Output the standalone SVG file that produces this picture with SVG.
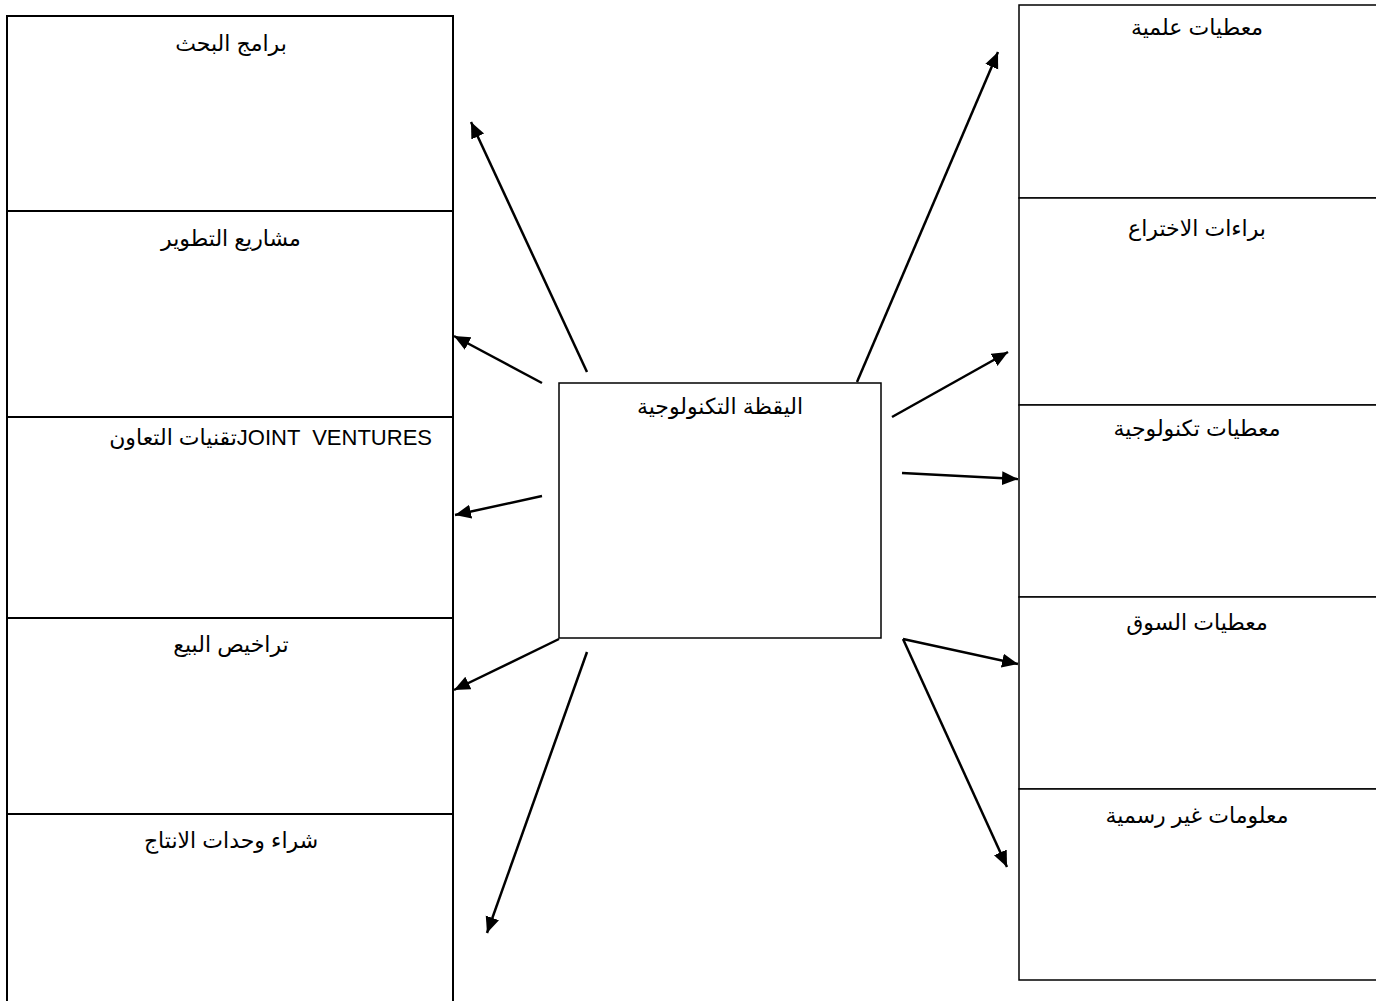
<svg xmlns="http://www.w3.org/2000/svg" width="1376" height="1001" viewBox="0 0 1376 1001">
<style>
  .cell { fill: #ffffff; stroke: #000000; stroke-width: 2; }
  .cellr { fill: #ffffff; stroke: #000000; stroke-width: 1.5; }
  .lbl { font-family: "Liberation Sans", "DejaVu Sans", "Noto Sans", sans-serif; font-size: 22px; fill: #000000; text-anchor: middle; }
  .arr { stroke: #000000; stroke-width: 2.5; fill: none; marker-end: url(#ah); }
</style>
<defs>
  <marker id="ah" markerUnits="userSpaceOnUse" markerWidth="18" markerHeight="16" refX="16" refY="7" orient="auto">
    <path d="M0,0 L16,7 L0,14 z" fill="#000000"/>
  </marker>
</defs>
<rect x="0" y="0" width="1376" height="1001" fill="#ffffff"/>

<g id="left-1"><rect class="cell" x="7" y="16" width="446" height="195"/><text class="lbl" x="231" y="51">برامج البحث</text></g>
<g id="left-2"><rect class="cell" x="7" y="211" width="446" height="206"/><text class="lbl" x="231" y="246">مشاريع التطوير</text></g>
<g id="left-3"><rect class="cell" x="7" y="417" width="446" height="201"/><text class="lbl" x="432" y="445" style="text-anchor:end" xml:space="preserve">تقنيات التعاونJOINT  VENTURES</text></g>
<g id="left-4"><rect class="cell" x="7" y="618" width="446" height="196"/><text class="lbl" x="231" y="652">تراخيص البيع</text></g>
<g id="left-5"><rect class="cell" x="7" y="814" width="446" height="200"/><text class="lbl" x="231" y="848">شراء وحدات الانتاج</text></g>

<g id="center"><rect class="cellr" x="559" y="383" width="322" height="255"/><text class="lbl" x="720" y="414">اليقظة التكنولوجية</text></g>

<g id="right-1"><rect class="cellr" x="1019" y="5" width="360" height="193"/><text class="lbl" x="1197" y="35">معطيات علمية</text></g>
<g id="right-2"><rect class="cellr" x="1019" y="198" width="360" height="207"/><text class="lbl" x="1197" y="236">براءات الاختراع</text></g>
<g id="right-3"><rect class="cellr" x="1019" y="405" width="360" height="192"/><text class="lbl" x="1197" y="436">معطيات تكنولوجية</text></g>
<g id="right-4"><rect class="cellr" x="1019" y="597" width="360" height="192"/><text class="lbl" x="1197" y="630">معطيات السوق</text></g>
<g id="right-5"><rect class="cellr" x="1019" y="789" width="360" height="191"/><text class="lbl" x="1197" y="823">معلومات غير رسمية</text></g>

<g id="connectors">
  <line class="arr" x1="587" y1="372" x2="471" y2="122"/>
  <line class="arr" x1="542" y1="383" x2="454" y2="336"/>
  <line class="arr" x1="542" y1="496" x2="455" y2="515"/>
  <line class="arr" x1="559" y1="639" x2="454" y2="690"/>
  <line class="arr" x1="587" y1="652" x2="487" y2="933"/>
  <line class="arr" x1="857" y1="382" x2="998" y2="52"/>
  <line class="arr" x1="892" y1="417" x2="1008" y2="352"/>
  <line class="arr" x1="902" y1="473" x2="1018" y2="479"/>
  <line class="arr" x1="903" y1="639" x2="1018" y2="664"/>
  <line class="arr" x1="903" y1="639" x2="1007" y2="867"/>
</g>
</svg>
